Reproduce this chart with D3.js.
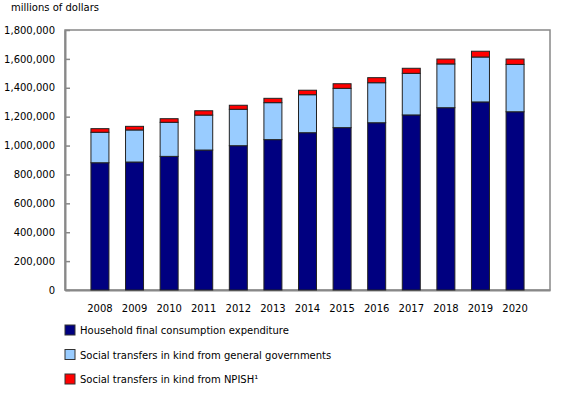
<!DOCTYPE html>
<html><head><meta charset="utf-8">
<script src="https://cdn.jsdelivr.net/npm/d3@7"></script>
<style>body{margin:0;background:#fff}svg{display:block;font-family:"DejaVu Sans",Verdana,sans-serif}</style>
</head><body><svg id="c" width="580" height="395"></svg>
<script>
const years = ["2008","2009","2010","2011","2012","2013","2014","2015","2016","2017","2018","2019","2020"];
const household = [881000,886000,925000,969000,999000,1041000,1089000,1124000,1158000,1212000,1262000,1302000,1234000];
const govTransfers = [211000,222000,236000,242000,252000,256000,263000,272000,277000,288000,303000,311000,328000];
const npishTransfers = [25000,25000,25000,30000,28000,30000,31000,32000,35000,35000,34000,40000,37000];
const seriesNames = ["Household final consumption expenditure","Social transfers in kind from general governments","Social transfers in kind from NPISH\u00B9"];
const colors = ["#000080","#99ccff","#ff0000"];
const yTicks = [0,200000,400000,600000,800000,1000000,1200000,1400000,1600000,1800000];
const yLabel = "millions of dollars";

const svg = d3.select("#c");
const L=65, R=550, T=30, B=290;
const x = d3.scaleBand().domain(years).range([L,R]).paddingInner(0.48).paddingOuter(0.75);
const y = d3.scaleLinear().domain([0,1800000]).range([B,T]);

const rows = years.map((yr,i)=>({year:yr, s0:household[i], s1:govTransfers[i], s2:npishTransfers[i]}));
const stack = d3.stack().keys(["s0","s1","s2"])(rows);

svg.append("text").attr("x",11).attr("y",11).attr("font-size",10).attr("fill","#000").text(yLabel);

// frame
svg.append("rect").attr("x",L).attr("y",T).attr("width",R-L).attr("height",B-T)
  .attr("fill","none").attr("stroke","#888").attr("stroke-width",1.5);

// y axis
const yAxis = d3.axisLeft(y).tickValues(yTicks).tickSizeInner(-5).tickSizeOuter(0).tickPadding(10)
  .tickFormat(d3.format(","));
const ga = svg.append("g").attr("transform",`translate(${L},0)`).call(yAxis);
ga.select(".domain").attr("stroke","#888").attr("stroke-width",2);
ga.selectAll(".tick line").attr("stroke","#888").attr("stroke-width",1.5);
ga.selectAll(".tick text").attr("font-size",10).attr("fill","#000").attr("font-family","DejaVu Sans, Verdana, sans-serif");

// x axis
const xAxis = d3.axisBottom(x).tickSize(0).tickPadding(15);
const gx = svg.append("g").attr("transform",`translate(0,${B})`).call(xAxis);
gx.select(".domain").attr("stroke","#888").attr("stroke-width",2);
gx.selectAll(".tick text").attr("font-size",10).attr("fill","#000").attr("font-family","DejaVu Sans, Verdana, sans-serif");

// bars
stack.forEach((layer,k)=>{
  svg.append("g").selectAll("rect").data(layer).join("rect")
    .attr("x",d=>x(d.data.year)).attr("width",x.bandwidth())
    .attr("y",d=>y(d[1])).attr("height",d=>y(d[0])-y(d[1]))
    .attr("fill",colors[k]).attr("stroke","#222").attr("stroke-width",1);
});

// legend
const lg = svg.append("g");
seriesNames.forEach((n,i)=>{
  const yy = 325 + i*24.5;
  lg.append("rect").attr("x",65).attr("y",yy).attr("width",10).attr("height",10)
    .attr("fill",colors[i]).attr("stroke","#333").attr("stroke-width",1);
  lg.append("text").attr("x",80).attr("y",yy+9).attr("font-size",10).attr("fill","#000").text(n);
});
</script></body></html>
